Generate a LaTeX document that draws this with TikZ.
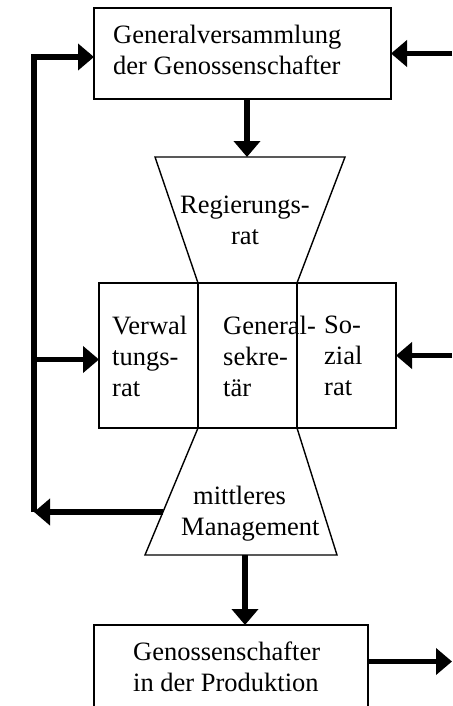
\documentclass[tikz,border=0pt]{standalone}
\usepackage{fontspec}
\setmainfont{Liberation Serif}
\usetikzlibrary{arrows.meta,positioning,calc}

\tikzset{
  box/.style={draw, line width=1.4pt, inner sep=0pt, outer sep=0pt, anchor=north west},
  trap/.style={draw, line width=1.4pt, line join=miter},
  txt/.style={inner sep=0pt, align=left, font=\fontsize{26.5}{31}\selectfont},
  flow/.style={line width=5.5pt, -{Triangle[length=16pt,width=26pt]}},
}

\begin{document}
\begin{tikzpicture}[x=1pt,y=-1pt]
    \useasboundingbox (0,0) rectangle (452,706);
    \clip (0,0) rectangle (452,706);

    % Kästen
    \node[box, minimum width=297pt, minimum height=91pt] (gv) at (94,8) {};
    \node[box, minimum width=99pt, minimum height=145pt] (vr) at (99,283) {};
    \node[box, minimum width=99pt, minimum height=145pt, right=0pt of vr] (gs) {};
    \node[box, minimum width=99pt, minimum height=145pt, right=0pt of gs] (sr) {};
    \node[box, minimum width=274pt, minimum height=95pt] (gp) at (94,625) {};

    % Trapeze
    \draw[trap] (155,157) -- (345,157) -- (gs.north east) -- (vr.north east) -- cycle;
    \draw[trap] (vr.south east) -- (gs.south east) -- (337,555) -- (145,555) -- cycle;

    % Texte
    \node[txt, anchor=west] (tgv) at (113,50) {Generalversammlung\\der Genossenschafter};
    \node[txt, align=center] (rr) at (245,220) {Regierungs-\\rat};
    \node[txt, anchor=west] (tvr) at (112,356) {Verwal\\tungs-\\rat};
    \node[txt, anchor=west] (tgs) at (223,356) {General-\\sekre-\\tär};
    \node[txt, anchor=west] (tsr) at (324,356) {So-\\zial\\rat};
    \node[txt, anchor=west] (mm) at (181,514) {\hspace{12pt}mittleres\\Management};
    \node[txt, anchor=west] (tgp) at (133,667) {Genossenschafter\\in der Produktion};

    % Hilfspunkte
    \coordinate (rrtop) at (247,157);
    \coordinate (mmbot) at (245,555);
    \coordinate (mmleft) at (163,512);
    \coordinate (fb) at (34,512);
    \coordinate (rand) at (452,0);
    \coordinate (vrin) at ([yshift=-4pt]vr.west);
    \coordinate (gvin) at ([yshift=-3.5pt]gv.west);
    \coordinate (gpout) at ([yshift=11pt]gp.east);

    % Pfeile
    \draw[flow] (gv.south -| rrtop) -- (rrtop);
    \draw[flow] (mmbot) -- (mmbot |- gp.north);
    \draw[flow] (mmleft) -- (fb);
    \draw[flow] (fb) |- (gvin);
    \draw[flow] (vrin -| fb) -- (vrin);
    \draw[flow] (gv.east -| rand) -- (gv.east);
    \draw[flow] (sr.east -| rand) -- (sr.east);
    \draw[flow] (gpout) -- (gpout -| rand);
\end{tikzpicture}
\end{document}
